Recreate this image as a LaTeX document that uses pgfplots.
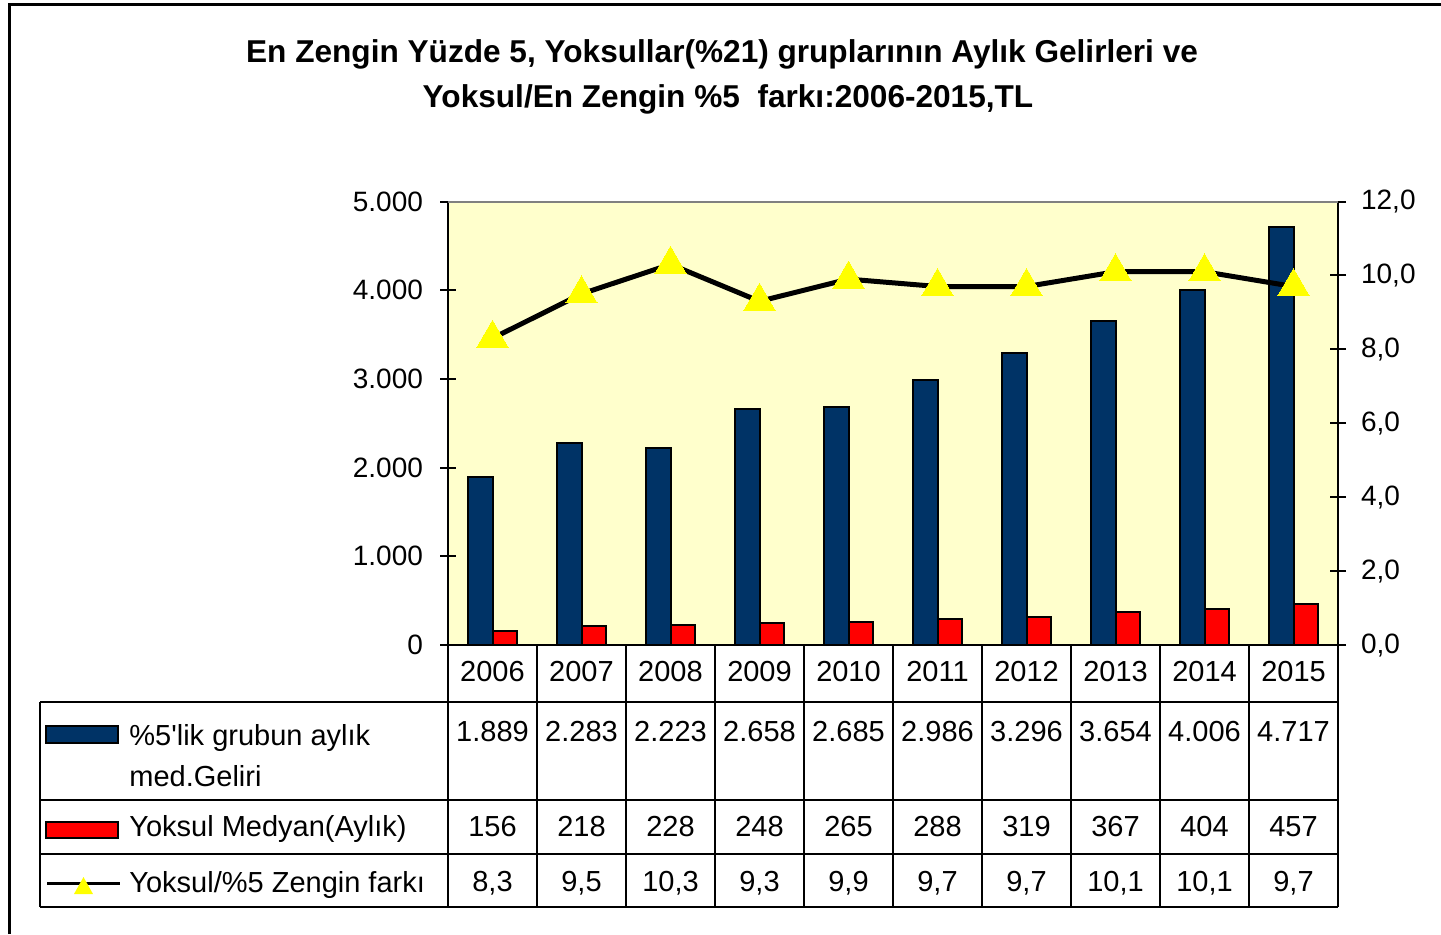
\documentclass[border=0pt]{standalone}
\usepackage{fontspec}
\setmainfont{Liberation Sans}
\usepackage{pgfplots}
\usepackage{pgfplotstable}
\pgfplotsset{compat=1.18}
\definecolor{navy}{HTML}{003366}
\definecolor{bgyel}{HTML}{FFFFCC}
\definecolor{tri}{HTML}{FFFF00}
\newcommand{\tfont}{\fontsize{14.5}{17}\selectfont}
\newcommand{\kfont}{\fontsize{14}{17}\selectfont}
\newcommand{\hfont}{\fontsize{15.8}{19}\selectfont}

% x: 0=2006 ... 9=2015
\pgfplotstableread{
yr rich poor gap
0 1889 156 8.3
1 2283 218 9.5
2 2223 228 10.3
3 2658 248 9.3
4 2685 265 9.9
5 2986 288 9.7
6 3296 319 9.7
7 3654 367 10.1
8 4006 404 10.1
9 4717 457 9.7
}\data

\begin{document}
\begin{tikzpicture}
% bars, left axis
\begin{axis}[
  at={(224pt,-322.5pt)}, anchor=south west,
  scale only axis, width=445pt, height=221.75pt,
  xmin=-0.5, xmax=9.5, ymin=0, ymax=5000,
  axis x line*=bottom, axis y line*=left,
  axis line style={line width=1.3pt,-},
  axis background/.style={fill=bgyel},
  xtick=\empty,
  ytick={0,1000,2000,3000,4000,5000},
  yticklabels={0,1.000,2.000,3.000,4.000,5.000},
  tick align=center, major tick length=8pt,
  every tick/.style={black,line width=1pt},
  tick label style={font=\kfont},
  yticklabel style={xshift=-5pt},
  clip=false,
]
  \addplot[ybar,bar width=0.28,bar shift=-0.14,fill=navy,draw=black,line width=1pt] table[x=yr,y=rich]{\data};
  \addplot[ybar,bar width=0.28,bar shift=0.14,fill=red,draw=black,line width=1pt] table[x=yr,y=poor]{\data};
\end{axis}
% ratio line, right axis
\begin{axis}[
  at={(224pt,-322.5pt)}, anchor=south west,
  scale only axis, width=445pt, height=221.75pt,
  xmin=-0.5, xmax=9.5, ymin=0, ymax=12,
  axis x line=none, axis y line*=right,
  axis line style={line width=1.3pt,-},
  ytick={0,2,4,6,8,10,12},
  yticklabels={{0,0},{2,0},{4,0},{6,0},{8,0},{10,0},{12,0}},
  tick align=center, major tick length=8pt,
  every tick/.style={black,line width=1pt},
  tick label style={font=\kfont},
  yticklabel style={xshift=4pt},
  clip=false,
]
  \draw[gray,line width=1pt] (rel axis cs:0,1) -- (rel axis cs:1,1);
  \addplot[black,line width=2.5pt,mark=triangle*,mark size=9pt,
    mark options={fill=tri,draw=tri,line width=0pt}] table[x=yr,y=gap]{\data};
\end{axis}

\begin{scope}[x=0.5pt,y=-0.5pt]
  % outer frame
  \draw[line width=1.5pt] (9,934) -- (9,4) -- (1441,4);
  % title
  \node[anchor=base,font=\bfseries\hfont] at (722,62.5) {En Zengin Yüzde 5, Yoksullar(\%21) gruplarının Aylık Gelirleri ve};
  \node[anchor=base,font=\bfseries\hfont] at (728,107) {Yoksul/En Zengin \%5\ \ farkı:2006-2015,TL};
  % data table
  \begin{scope}[line width=1.3pt]
    \foreach \yy in {702,800,854,907} \draw (40,\yy) -- (1338,\yy);
    \draw (40,702) -- (40,907);
    \foreach \k in {0,...,10} \draw (448+89*\k,645) -- (448+89*\k,907);
  \end{scope}
  \foreach \t [count=\i from 0] in {2006,2007,2008,2009,2010,2011,2012,2013,2014,2015}
    \node[anchor=base,font=\tfont,inner sep=0pt] at (492.5+89*\i,681.5) {\t};
  \foreach \t [count=\i from 0] in {1.889,2.283,2.223,2.658,2.685,2.986,3.296,3.654,4.006,4.717}
    \node[anchor=base,font=\tfont,inner sep=0pt] at (492.5+89*\i,741.5) {\t};
  \foreach \t [count=\i from 0] in {156,218,228,248,265,288,319,367,404,457}
    \node[anchor=base,font=\tfont,inner sep=0pt] at (492.5+89*\i,836.5) {\t};
  \foreach \t [count=\i from 0] in {{8,3},{9,5},{10,3},{9,3},{9,9},{9,7},{9,7},{10,1},{10,1},{9,7}}
    \node[anchor=base,font=\tfont,inner sep=0pt] at (492.5+89*\i,891.5) {\t};
  % legend keys
  \draw[fill=navy,line width=1pt] (46,726) rectangle (118,743);
  \draw[fill=red,line width=1pt] (46,822) rectangle (118,838);
  \draw[line width=1.5pt] (47,883) -- (120,883);
  \fill[tri] (74,894) -- (93,894) -- (83.5,877) -- cycle;
  \node[anchor=base west,font=\tfont,inner sep=0pt] at (129,745) {\%5\textquotesingle lik grubun aylık};
  \node[anchor=base west,font=\tfont,inner sep=0pt] at (129,786) {med.Geliri};
  \node[anchor=base west,font=\tfont,inner sep=0pt] at (129,836.5) {Yoksul Medyan(Aylık)};
  \node[anchor=base west,font=\tfont,inner sep=0pt] at (129,892) {Yoksul/\%5 Zengin farkı};
  \pgfresetboundingbox
  \path[use as bounding box] (0,0) rectangle (1441,934);
\end{scope}
\end{tikzpicture}
\end{document}
